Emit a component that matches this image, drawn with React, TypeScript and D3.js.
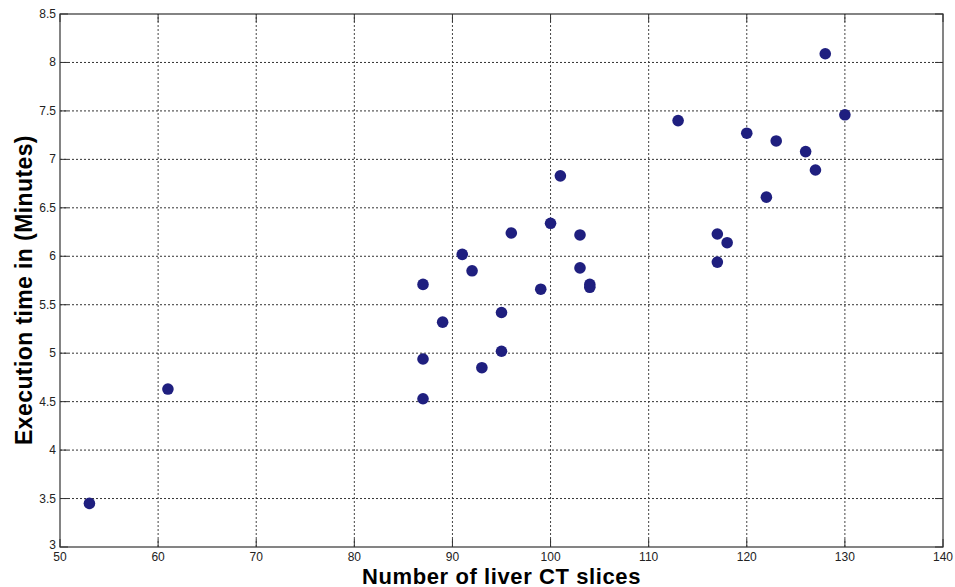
import React from 'react';
import * as d3 from 'd3';

// slices vs minutes
const slices = [53, 61, 87, 87, 87, 89, 91, 92, 93, 95, 95, 96, 99, 100, 101, 103, 103, 104, 104, 113, 117, 117, 118, 120, 122, 123, 126, 127, 128, 130];
const minutes = [3.45, 4.63, 4.53, 4.94, 5.71, 5.32, 6.02, 5.85, 4.85, 5.42, 5.02, 6.24, 5.66, 6.34, 6.83, 6.22, 5.88, 5.71, 5.68, 7.40, 6.23, 5.94, 6.14, 7.27, 6.61, 7.19, 7.08, 6.89, 8.09, 7.46];

const xTicks = [50, 60, 70, 80, 90, 100, 110, 120, 130, 140];
const yTicks = [3, 3.5, 4, 4.5, 5, 5.5, 6, 6.5, 7, 7.5, 8, 8.5];

const W = 955;
const H = 587;
const margin = { top: 14, right: 12, bottom: 40, left: 60 };

const App = () => {
  const x = d3.scaleLinear().domain([50, 140]).range([margin.left, W - margin.right]);
  const y = d3.scaleLinear().domain([3, 8.5]).range([H - margin.bottom, margin.top]);
  const [x0, x1] = x.range();
  const [y0, y1] = y.range();
  const tickLen = 8;
  const font = '"Liberation Sans", Arial, sans-serif';

  return (
    <svg width={W} height={H} style={{ position: 'absolute', left: 0, top: 0, background: '#fff' }}>
      {/* grid */}
      {xTicks.slice(1, -1).map(t => (
        <line key={'gx' + t} x1={x(t)} x2={x(t)} y1={y0} y2={y1} stroke="#444" strokeWidth={1} strokeDasharray="2 2" />
      ))}
      {yTicks.slice(1, -1).map(t => (
        <line key={'gy' + t} x1={x0} x2={x1} y1={y(t)} y2={y(t)} stroke="#333" strokeWidth={1} strokeDasharray="2 2" />
      ))}

      {/* inward ticks on all four sides */}
      {xTicks.map(t => (
        <g key={'tx' + t}>
          <line x1={x(t)} x2={x(t)} y1={y0} y2={y0 - tickLen} stroke="#333" />
          <line x1={x(t)} x2={x(t)} y1={y1} y2={y1 + tickLen} stroke="#333" />
          <text x={x(t)} y={y0 + 14} textAnchor="middle" fontSize={12} fontFamily={font} fill="#222">{t}</text>
        </g>
      ))}
      {yTicks.map(t => (
        <g key={'ty' + t}>
          <line x1={x0} x2={x0 + tickLen} y1={y(t)} y2={y(t)} stroke="#333" />
          <line x1={x1} x2={x1 - tickLen} y1={y(t)} y2={y(t)} stroke="#333" />
          <text x={x0 - 4} y={y(t) + (t === 3 ? 2 : 4)} textAnchor="end" fontSize={12} fontFamily={font} fill="#222">{t}</text>
        </g>
      ))}

      <rect x={x0} y={y1} width={x1 - x0} height={y0 - y1} fill="none" stroke="#333" strokeWidth={1.2} />

      {/* points */}
      {slices.map((s, i) => (
        <circle key={i} cx={x(s)} cy={y(minutes[i])} r={5.8} fill="#1f1f7f" />
      ))}

      {/* axis titles */}
      <text x={(x0 + x1) / 2} y={584} textAnchor="middle" fontSize={22} fontWeight="bold" letterSpacing={0.6} fontFamily={font} fill="#000">
        Number of liver CT slices
      </text>
      <text transform="translate(32, 290) rotate(-90)" textAnchor="middle" fontSize={23} fontWeight="bold" letterSpacing={0.4} fontFamily={font} fill="#000">
        Execution time in (Minutes)
      </text>
    </svg>
  );
};

export default App;
